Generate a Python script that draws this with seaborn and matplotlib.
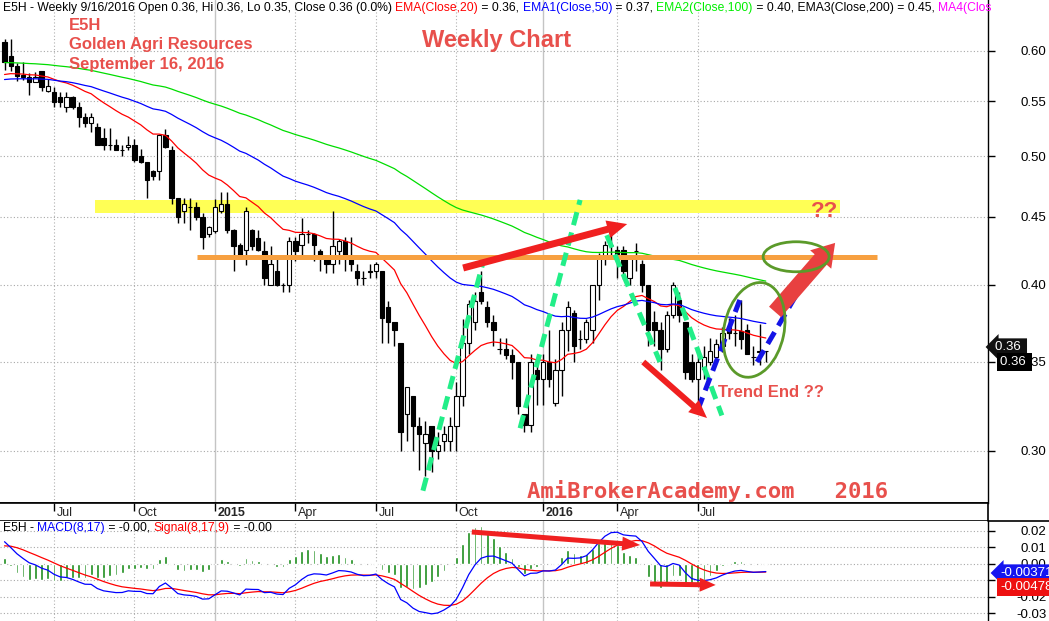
import numpy as np
import pandas as pd
import matplotlib
matplotlib.use("Agg")
import matplotlib.pyplot as plt
import seaborn as sns
from matplotlib.patches import Ellipse
from matplotlib.lines import Line2D
from matplotlib.transforms import IdentityTransform
from matplotlib.ticker import FixedLocator, NullLocator, FormatStrFormatter

# weekly bars of E5H, 2014-05-09 .. 2016-09-16
opens = [0.609, 0.595, 0.585, 0.576, 0.574, 0.569, 0.580, 0.560, 0.559, 0.554,
         0.544, 0.554, 0.544, 0.535, 0.530, 0.526, 0.516, 0.510, 0.510, 0.505,
         0.508, 0.510, 0.500, 0.495, 0.487, 0.487, 0.519, 0.505, 0.465, 0.455,
         0.458, 0.458, 0.450, 0.437, 0.439, 0.455, 0.460, 0.440, 0.429, 0.425,
         0.440, 0.434, 0.424, 0.400, 0.410, 0.400, 0.400, 0.432, 0.429, 0.437,
         0.437, 0.424, 0.420, 0.415, 0.424, 0.432, 0.420, 0.410, 0.405, 0.409,
         0.410, 0.410, 0.385, 0.375, 0.362, 0.320, 0.330, 0.313, 0.304, 0.313,
         0.300, 0.305, 0.305, 0.313, 0.330, 0.362, 0.375, 0.395, 0.385, 0.375,
         0.358, 0.358, 0.354, 0.350, 0.320, 0.314, 0.345, 0.340, 0.350, 0.326,
         0.345, 0.370, 0.381, 0.364, 0.364, 0.370, 0.400, 0.420, 0.429, 0.425,
         0.425, 0.405, 0.424, 0.415, 0.400, 0.375, 0.370, 0.358, 0.380, 0.390,
         0.375, 0.350, 0.340, 0.346, 0.350, 0.353, 0.360, 0.372, 0.368, 0.369,
         0.370, 0.353, 0.356, 0.357]
highs = [0.613, 0.613, 0.588, 0.589, 0.578, 0.579, 0.580, 0.572, 0.564, 0.559,
         0.559, 0.555, 0.549, 0.539, 0.539, 0.530, 0.525, 0.525, 0.515, 0.510,
         0.518, 0.515, 0.506, 0.495, 0.488, 0.520, 0.524, 0.509, 0.465, 0.465,
         0.465, 0.462, 0.453, 0.443, 0.464, 0.470, 0.470, 0.441, 0.430, 0.458,
         0.441, 0.440, 0.432, 0.428, 0.419, 0.401, 0.435, 0.435, 0.449, 0.440,
         0.438, 0.426, 0.420, 0.455, 0.433, 0.435, 0.435, 0.415, 0.410, 0.415,
         0.416, 0.410, 0.389, 0.375, 0.362, 0.335, 0.330, 0.318, 0.316, 0.313,
         0.310, 0.313, 0.318, 0.338, 0.377, 0.390, 0.395, 0.410, 0.389, 0.380,
         0.365, 0.365, 0.358, 0.350, 0.320, 0.355, 0.352, 0.355, 0.370, 0.352,
         0.375, 0.389, 0.383, 0.370, 0.377, 0.400, 0.423, 0.432, 0.437, 0.428,
         0.428, 0.420, 0.430, 0.418, 0.400, 0.382, 0.375, 0.382, 0.402, 0.395,
         0.375, 0.355, 0.355, 0.360, 0.365, 0.364, 0.372, 0.378, 0.380, 0.390,
         0.374, 0.360, 0.374, 0.357]
lows = [0.581, 0.580, 0.570, 0.571, 0.556, 0.569, 0.560, 0.559, 0.544, 0.544,
        0.540, 0.543, 0.526, 0.526, 0.521, 0.510, 0.505, 0.505, 0.505, 0.500,
        0.505, 0.495, 0.494, 0.465, 0.480, 0.480, 0.507, 0.460, 0.445, 0.445,
        0.440, 0.448, 0.426, 0.435, 0.438, 0.453, 0.438, 0.410, 0.420, 0.414,
        0.425, 0.424, 0.400, 0.400, 0.399, 0.395, 0.395, 0.417, 0.420, 0.430,
        0.417, 0.410, 0.408, 0.408, 0.415, 0.410, 0.410, 0.400, 0.400, 0.405,
        0.405, 0.362, 0.362, 0.360, 0.300, 0.305, 0.300, 0.290, 0.287, 0.289,
        0.296, 0.300, 0.300, 0.300, 0.324, 0.355, 0.370, 0.387, 0.372, 0.360,
        0.355, 0.352, 0.340, 0.320, 0.310, 0.310, 0.325, 0.325, 0.335, 0.324,
        0.330, 0.357, 0.350, 0.358, 0.362, 0.362, 0.390, 0.414, 0.420, 0.405,
        0.404, 0.400, 0.410, 0.395, 0.360, 0.360, 0.345, 0.356, 0.378, 0.375,
        0.340, 0.338, 0.325, 0.340, 0.348, 0.350, 0.356, 0.364, 0.360, 0.358,
        0.355, 0.348, 0.348, 0.350]
closes = [0.589, 0.585, 0.575, 0.574, 0.569, 0.574, 0.564, 0.565, 0.549, 0.549,
          0.554, 0.544, 0.535, 0.530, 0.535, 0.510, 0.510, 0.510, 0.505, 0.505,
          0.510, 0.497, 0.495, 0.480, 0.483, 0.519, 0.508, 0.465, 0.450, 0.460,
          0.458, 0.450, 0.435, 0.442, 0.458, 0.460, 0.440, 0.428, 0.420, 0.455,
          0.428, 0.425, 0.405, 0.415, 0.400, 0.400, 0.432, 0.424, 0.437, 0.437,
          0.429, 0.420, 0.415, 0.428, 0.432, 0.420, 0.415, 0.405, 0.405, 0.410,
          0.415, 0.378, 0.375, 0.370, 0.310, 0.335, 0.313, 0.309, 0.309, 0.300,
          0.303, 0.309, 0.313, 0.330, 0.362, 0.387, 0.389, 0.389, 0.375, 0.370,
          0.358, 0.354, 0.350, 0.324, 0.314, 0.350, 0.340, 0.350, 0.340, 0.345,
          0.370, 0.385, 0.360, 0.364, 0.375, 0.400, 0.420, 0.429, 0.429, 0.422,
          0.410, 0.420, 0.424, 0.400, 0.370, 0.370, 0.358, 0.380, 0.400, 0.380,
          0.344, 0.340, 0.350, 0.353, 0.357, 0.361, 0.368, 0.368, 0.368, 0.364,
          0.355, 0.353, 0.357, 0.357]

# indicator values at the first bar (history before the window)
ema20_start = 0.576
ema50_start = 0.571
ema100_start = 0.588
ema8_start = 0.603
ema17_start = 0.5895
signal_start = 0.011
hist_scale = 1.5  # histogram is drawn taller than the MACD-signal gap on the chart

# first bar of each quarter
tick_bars = [8, 21, 34, 47, 60, 73, 87, 99, 112]
tick_labels = ["Jul", "Oct", "2015", "Apr", "Jul", "Oct", "2016", "Apr", "Jul"]
price_ticks = [0.30, 0.35, 0.40, 0.45, 0.50, 0.55, 0.60]
macd_ticks = [0.02, 0.01, 0.00, -0.01, -0.02, -0.03]


def ema(values, span, first):
    alpha = 2.0 / (span + 1)
    out = [first]
    for v in values[1:]:
        out.append(alpha * v + (1 - alpha) * out[-1])
    return np.array(out)


df = pd.DataFrame({"open": opens, "high": highs, "low": lows, "close": closes})
df["bar"] = np.arange(len(df))
df["ema20"] = ema(df["close"].values, 20, ema20_start)
df["ema50"] = ema(df["close"].values, 50, ema50_start)
df["ema100"] = ema(df["close"].values, 100, ema100_start)
df["macd"] = ema(df["close"].values, 8, ema8_start) - ema(df["close"].values, 17, ema17_start)
df["signal"] = ema(df["macd"].values, 9, signal_start)
df["hist"] = (df["macd"] - df["signal"]) * hist_scale

sns.set_style("white")
plt.rcParams["font.family"] = ["Liberation Sans", "DejaVu Sans"]

W, H = 1049, 621
fig = plt.figure(figsize=(W / 100, H / 100), dpi=100)


def px_axes(x0, y0, x1, y1):
    return fig.add_axes([x0 / W, 1 - y1 / H, (x1 - x0) / W, (y1 - y0) / H])


ax = px_axes(0, 0, 988, 503)
axd = px_axes(0, 503, 988, 521)
axm = px_axes(0, 521, 988, 621)
xlim = (-0.73, 158.9)
note_red = "#e8504c"

# ---------- price pane ----------
ax.set_yscale("log")
ax.set_xlim(xlim)
ax.set_ylim(0.2741, 0.6554)
for a in (ax, axm):
    for b, lab in zip(tick_bars, tick_labels):
        if lab.isdigit():
            a.axvline(b, color="#c4c4c4", lw=1, zorder=0)
        else:
            a.axvline(b, color="#b0b0b0", lw=0.8, ls=(0, (1, 2)), zorder=0)

ax.fill_between([14.6, 135.0], 0.4527, 0.4635, color="#ffff55", lw=0, zorder=1)

up = df["close"] >= df["open"]
ax.vlines(df["bar"], df["low"], df["high"], color="black", lw=1, zorder=3)
ax.bar(df["bar"], (df["close"] - df["open"]).abs(), bottom=df[["open", "close"]].min(axis=1),
       width=0.7, color=np.where(up, "white", "black"), edgecolor="black", linewidth=0.8, zorder=4)

sns.lineplot(data=df, x="bar", y="ema20", color="#ff0000", lw=0.9, ax=ax, zorder=5)
sns.lineplot(data=df, x="bar", y="ema50", color="#0000ff", lw=0.9, ax=ax, zorder=5)
sns.lineplot(data=df, x="bar", y="ema100", color="#00dd00", lw=0.9, ax=ax, zorder=5)

ax.plot([31.1, 141.0], [0.420, 0.420], color="#f7a040", lw=3.6, zorder=6, solid_capstyle="butt")

ax.yaxis.set_major_locator(FixedLocator(price_ticks))
ax.yaxis.set_minor_locator(NullLocator())
ax.yaxis.set_major_formatter(FormatStrFormatter("%.2f"))
ax.grid(axis="y", color="#a8a8a8", lw=0.8, ls=(0, (1, 2)))
ax.yaxis.tick_right()
ax.set_xticks([])
ax.set_xlabel("")
ax.set_ylabel("")

# ---------- MACD pane ----------
axm.set_xlim(xlim)
axm.set_ylim(-0.03455, 0.02606)
axm.bar(df["bar"], df["hist"], width=0.45, color="#1a8c1a", zorder=2)
sns.lineplot(data=df, x="bar", y="macd", color="#0000ff", lw=0.9, ax=axm, zorder=4)
sns.lineplot(data=df, x="bar", y="signal", color="#ff0000", lw=0.9, ax=axm, zorder=3)
axm.yaxis.set_major_locator(FixedLocator(macd_ticks))
axm.yaxis.set_major_formatter(FormatStrFormatter("%.2f"))
axm.grid(axis="y", color="#a8a8a8", lw=0.8, ls=(0, (1, 2)))
axm.yaxis.tick_right()
axm.set_xticks([])
axm.set_xlabel("")
axm.set_ylabel("")

for a in (ax, axm):
    a.tick_params(axis="y", direction="out", length=5, width=1, pad=37, labelsize=9.5, colors="black")
    for lab in a.get_yticklabels():
        lab.set_horizontalalignment("right")
    for s in ("top", "left", "bottom"):
        a.spines[s].set_visible(False)
    a.spines["right"].set_color("black")
    a.spines["right"].set_linewidth(1)
ax.spines["bottom"].set_visible(True)
ax.spines["bottom"].set_color("black")
ax.spines["bottom"].set_linewidth(1.2)

# ---------- date strip ----------
axd.set_xlim(xlim)
axd.set_ylim(0, 1)
axd.set_xticks([])
axd.set_yticks([])
axd.spines["left"].set_visible(False)
for s in ("top", "bottom", "right"):
    axd.spines[s].set_color("black")
    axd.spines[s].set_linewidth(1.2)
for b, lab in zip(tick_bars, tick_labels):
    axd.vlines(b, 0.55, 1.0, color="black", lw=1)
    axd.text(b + 0.4, 0.42, lab, fontsize=9, ha="left", va="center",
             fontweight="bold" if lab.isdigit() else "normal")
fig.add_artist(Line2D([988 / W, 1], [1 - 521 / H, 1 - 521 / H], color="black", lw=1.2))

# ---------- drawings on the chart ----------
greens = [((67.6, 0.280), (77.2, 0.414)), ((83.3, 0.312), (93.0, 0.4635)),
          ((97.3, 0.436), (105.9, 0.350)), ((108.3, 0.398), (115.9, 0.319))]
for p0, p1 in greens:
    ax.plot([p0[0], p1[0]], [p0[1], p1[1]], color="#22ee88", lw=3.6,
            dashes=(2.7, 1.5), zorder=7)
blues = [((112.0, 0.322), (118.8, 0.3897)), ((121.6, 0.350), (131.7, 0.4213))]
for p0, p1 in blues:
    ax.plot([p0[0], p1[0]], [p0[1], p1[1]], color="#1414e6", lw=3.6,
            dashes=(2.7, 1.5), zorder=7)


def red_arrow(a, tail, head, shaft, hw, hl, color="#f02020"):
    ms = 10
    k = 1.389 * ms
    a.annotate("", xy=head, xytext=tail, zorder=8,
               arrowprops=dict(arrowstyle=f"simple,head_length={hl / k},head_width={hw / k},tail_width={shaft / k}",
                               fc=color, ec="none", mutation_scale=ms, shrinkA=0, shrinkB=0))


red_arrow(ax, (74.1, 0.4119), (100.6, 0.4445), 7, 18, 20)
red_arrow(ax, (103.2, 0.350), (113.5, 0.3176), 6, 16, 18)
red_arrow(ax, (124.5, 0.3817), (134.2, 0.4302), 16, 28, 22, "#e84040")
red_arrow(axm, (75.5, 0.0194), (102.7, 0.0115), 5, 14, 18)
red_arrow(axm, (104.3, -0.0121), (114.9, -0.0127), 5, 14, 16)

fig.canvas.draw()
for (cx, cy), w, h, ang in [((127.9, 0.420), 66, 30, 0), ((121.1, 0.370), 60, 96, -12)]:
    xd, yd = ax.transData.transform((cx, cy))
    ax.add_patch(Ellipse((xd, yd), w, h, angle=ang, transform=IdentityTransform(),
                         fill=False, ec="#5b9a2a", lw=2, zorder=9))

ax.text(115.3, 0.332, "Trend End ??", color=note_red, fontsize=12, fontweight="bold",
        ha="left", va="center", zorder=9)
ax.text(132.5, 0.454, "??", color=note_red, fontsize=16, fontweight="bold",
        ha="center", va="center", zorder=9)


def ftext(x, y, s, **kw):
    return fig.text(x / W, 1 - y / H, s, **kw)


ftext(69, 26, "E5H", color=note_red, fontsize=12, fontweight="bold", va="center")
ftext(69, 45, "Golden Agri Resources", color=note_red, fontsize=12, fontweight="bold", va="center")
ftext(69, 64, "September 16, 2016", color=note_red, fontsize=12, fontweight="bold", va="center")
ftext(497, 40, "Weekly Chart", color=note_red, fontsize=17, fontweight="bold", ha="center", va="center")
ftext(708, 491, "AmiBrokerAcademy.com   2016", color=note_red, fontsize=16, fontweight="bold",
      family="DejaVu Sans Mono", ha="center", va="center")

renderer = fig.canvas.get_renderer()


def advance(s, size):
    t1 = fig.text(0, 0, s + "X", fontsize=size)
    t2 = fig.text(0, 0, "X", fontsize=size)
    w = t1.get_window_extent(renderer).width - t2.get_window_extent(renderer).width
    t1.remove()
    t2.remove()
    return w


def colored_line(x, y, pieces, size):
    for s, c in pieces:
        ftext(x, y, s, color=c, fontsize=size, va="center", ha="left")
        x += advance(s, size)


colored_line(3, 8, [("E5H - Weekly 9/16/2016 Open 0.36, Hi 0.36, Lo 0.35, Close 0.36 (0.0%) ", "black"),
                    ("EMA(Close,20)", "#ff0000"), (" = 0.36, ", "black"),
                    ("EMA1(Close,50)", "#0000ff"), (" = 0.37, ", "black"),
                    ("EMA2(Close,100)", "#00ee00"), (" = 0.40, EMA3(Close,200) = 0.45, ", "black"),
                    ("MA4(Clos", "#ff00ff")], 8.7)
colored_line(3, 528, [("E5H - ", "black"), ("MACD(8,17)", "#0000ff"), (" = -0.00, ", "black"),
                      ("Signal(8,17,9)", "#ff0000"), (" = -0.00", "black")], 8.7)

# last-value flags on the right scale
ftext(995, 347, "0.36 ", color="white", fontsize=9.5, va="center", zorder=10,
      bbox=dict(boxstyle="larrow,pad=0.2", fc="#111111", ec="none"))
ftext(1000, 362, "0.36 ", color="white", fontsize=9.5, va="center", zorder=10,
      bbox=dict(boxstyle="square,pad=0.2", fc="black", ec="none"))
ftext(1000, 573, "-0.003718", color="white", fontsize=9.5, va="center", zorder=10,
      bbox=dict(boxstyle="larrow,pad=0.2", fc="#1515f0", ec="none"))
ftext(1000, 587, "-0.00478", color="white", fontsize=9.5, va="center", zorder=10,
      bbox=dict(boxstyle="square,pad=0.25", fc="#ee1010", ec="none"))

fig.savefig("out.png", dpi=100)
